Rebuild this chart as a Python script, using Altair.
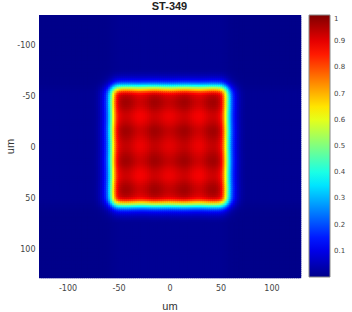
import altair as alt
import pandas as pd

# ---- data ----
# cell centres (um) of the intensity map, 2 um cells
cell_centers = [-127 + 2 * i for i in range(128)]

# half-profile of relative intensity along x for |x| = 1,3,5,...,127 um
px_half = [0.950, 0.953, 0.958, 0.966, 0.972, 0.978, 0.982, 0.983, 0.980, 0.973,
           0.963, 0.954, 0.947, 0.942, 0.940, 0.942, 0.949, 0.958, 0.968, 0.976,
           0.981, 0.983, 0.980, 0.970, 0.950, 0.900, 0.800, 0.660, 0.500, 0.350,
           0.235, 0.160, 0.105, 0.068, 0.042, 0.026,
           0.016, 0.011, 0.010, 0.010, 0.010, 0.010, 0.010, 0.010, 0.010, 0.010,
           0.010, 0.010, 0.010, 0.010, 0.010, 0.010, 0.010, 0.010, 0.010, 0.010,
           0.010, 0.010, 0.010, 0.010, 0.010, 0.010, 0.010, 0.010]
# half-profile along y for |y| = 1,3,5,...,127 um
py_half = [0.950, 0.953, 0.958, 0.966, 0.972, 0.978, 0.982, 0.983, 0.980, 0.973,
           0.963, 0.954, 0.947, 0.942, 0.940, 0.942, 0.949, 0.958, 0.968, 0.976,
           0.981, 0.983, 0.980, 0.972, 0.960, 0.920, 0.840, 0.710, 0.560, 0.400,
           0.265, 0.175, 0.112, 0.072, 0.045, 0.028,
           0.017, 0.011, 0.010, 0.010, 0.010, 0.010, 0.010, 0.010, 0.010, 0.010,
           0.010, 0.010, 0.010, 0.010, 0.010, 0.010, 0.010, 0.010, 0.010, 0.010,
           0.010, 0.010, 0.010, 0.010, 0.010, 0.010, 0.010, 0.010]

x_ticks = [-100, -50, 0, 50, 100]
y_ticks = [-100, -50, 0, 50, 100]
colorbar_ticks = [0.1, 0.2, 0.3, 0.4, 0.5, 0.6, 0.7, 0.8, 0.9, 1.0]
jet_stops = [0.0, 0.125, 0.375, 0.625, 0.875, 1.0]
jet_colors = ["#00008a", "#0000ff", "#00ffff", "#ffff00", "#ff0000", "#800000"]

title_text = "ST-349"
axis_title = "um"

# ---- build table ----
px = px_half[::-1] + px_half
py = py_half[::-1] + py_half
rows = []
for i, cx in enumerate(cell_centers):
    for j, cy in enumerate(cell_centers):
        rows.append({"x0": cx - 1, "x1": cx + 2.2, "y0": cy - 1, "y1": cy + 2.2,
                     "v": px[i] * py[j]})
df = pd.DataFrame(rows)

label_style = dict(labelFont="DejaVu Sans", labelFontSize=8, labelColor="#444",
                   labelExpr="'' + datum.value", ticks=False, domain=False, grid=False,
                   titleFont="Liberation Sans", titleFontSize=11,
                   titleFontWeight="normal", titleColor="#333")

chart = alt.Chart(df).mark_rect().encode(
    x=alt.X("x0:Q",
            scale=alt.Scale(domain=[-128, 128], nice=False, zero=False),
            axis=alt.Axis(values=x_ticks, title=axis_title, labelPadding=7,
                          titlePadding=8, **label_style)),
    x2="x1:Q",
    y=alt.Y("y0:Q",
            scale=alt.Scale(domain=[-128, 128], nice=False, zero=False, reverse=True),
            axis=alt.Axis(values=y_ticks, title=axis_title, labelPadding=4,
                          labelOffset=1.5, titlePadding=1, **label_style)),
    y2="y1:Q",
    color=alt.Color("v:Q",
                    scale=alt.Scale(domain=jet_stops, range=jet_colors, interpolate="rgb"),
                    legend=alt.Legend(orient="none", legendX=270, legendY=0,
                                      direction="vertical", gradientLength=262,
                                      gradientThickness=21, title=None,
                                      values=colorbar_ticks, format=".1~f",
                                      labelFont="DejaVu Sans", labelFontSize=7,
                                      labelColor="#444", labelOffset=4,
                                      labelOverlap=False, gradientStrokeColor="#888",
                                      gradientStrokeWidth=1, padding=0)),
).properties(
    width=261,
    height=262,
    title=alt.TitleParams(title_text, font="Liberation Sans", fontSize=11,
                          fontWeight="bold", color="#222", anchor="middle", offset=3),
    autosize=alt.AutoSizeParams(type="none"),
    padding={"left": 39, "top": 15, "right": 52, "bottom": 35},
).configure_view(
    stroke="#999", strokeWidth=1, fill="#00008a"
)

chart.save("out.html", embed_options={"renderer": "svg", "actions": False})
